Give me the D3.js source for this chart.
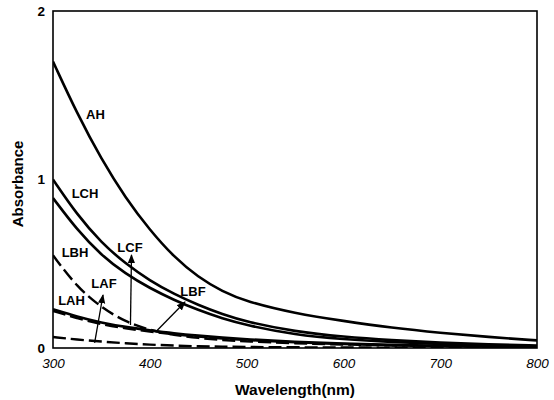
<!DOCTYPE html>
<html><head><meta charset="utf-8">
<script src="https://cdn.jsdelivr.net/npm/d3@7"></script>
<style>body{margin:0;background:#fff}svg{display:block}</style>
</head><body>
<svg id="c" width="554" height="400"></svg>
<script>
const wavelengths = [300,325,350,375,400,425,450,475,500,550,600,650,700,750,800];
const AH  = [1.70,1.39,1.12,0.89,0.70,0.54,0.42,0.335,0.275,0.205,0.16,0.12,0.09,0.065,0.045];
const LCH = [1.00,0.79,0.625,0.50,0.40,0.32,0.255,0.20,0.155,0.097,0.066,0.046,0.032,0.022,0.015];
const LBH = [0.89,0.70,0.55,0.44,0.355,0.285,0.225,0.175,0.135,0.078,0.052,0.035,0.023,0.015,0.01];
const LAH = [0.23,0.186,0.15,0.124,0.105,0.087,0.073,0.061,0.052,0.036,0.026,0.018,0.013,0.009,0.006];
const LBF = [0.22,0.176,0.141,0.116,0.097,0.081,0.067,0.056,0.047,0.033,0.023,0.016,0.011,0.008,0.005];
const LCF = [0.55,0.36,0.24,0.155,0.105,0.077,0.059,0.047,0.039,0.028,0.02,0.015,0.011,0.008,0.006];
const LAF = [0.065,0.05,0.038,0.028,0.02,0.014,0.01,0.008,0.006,0.004,0.003,0.002,0.0015,0.001,0.0];
const xTicks = [300,400,500,600,700,800];
const yTicks = [0,1,2];

const series = [
  {name:"LBF", values:LBF, dashed:true},
  {name:"LAF", values:LAF, dashed:true},
  {name:"LCF", values:LCF, dashed:true},
  {name:"LAH", values:LAH, dashed:false},
  {name:"LBH", values:LBH, dashed:false},
  {name:"LCH", values:LCH, dashed:false},
  {name:"AH",  values:AH,  dashed:false}
];

const labels = [
  {text:"AH", x:95.5, y:114},
  {text:"LCH", x:85, y:193},
  {text:"LBH", x:75, y:252},
  {text:"LCF", x:130, y:247},
  {text:"LAF", x:104, y:283},
  {text:"LAH", x:71.5, y:300},
  {text:"LBF", x:193, y:291}
];
const arrows = [
  {from:[380,0.137], to:[131.5,255]},
  {from:[343,0.03], to:[103,295]},
  {from:[406,0.095], to:[185,302]}
];

const svg = d3.select("#c");
const x = d3.scaleLinear().domain([300,800]).range([53,537]);
const y = d3.scaleLinear().domain([0,2]).range([348,11]);
const font = "Liberation Sans, Arial, sans-serif";

svg.append("defs").append("marker")
  .attr("id","ah").attr("viewBox","0 0 10 10").attr("refX",9).attr("refY",5)
  .attr("markerWidth",7).attr("markerHeight",7).attr("orient","auto-start-reverse")
  .append("path").attr("d","M0,1 L10,5 L0,9 z").attr("fill","#000");

svg.append("clipPath").attr("id","pc").append("rect")
  .attr("x",53).attr("y",11).attr("width",484).attr("height",337);

const line = d3.line().x((d,i)=>x(wavelengths[i])).y(d=>y(d)).curve(d3.curveBasis);
const g = svg.append("g").attr("clip-path","url(#pc)");
g.selectAll("path.s").data(series).join("path")
  .attr("class","s")
  .attr("d",d=>line(d.values))
  .attr("fill","none").attr("stroke","#000")
  .attr("stroke-width",d=>d.dashed?2.4:2.6)
  .attr("stroke-dasharray",d=>d.dashed?"13,5":null);

svg.append("rect").attr("x",53).attr("y",11).attr("width",484).attr("height",337)
  .attr("fill","none").attr("stroke","#000").attr("stroke-width",1.6);

const xa = svg.append("g").attr("transform","translate(0,348)")
  .call(d3.axisBottom(x).tickValues(xTicks).tickSize(0).tickPadding(10).tickFormat(d3.format("d")));
xa.select(".domain").remove();
xa.selectAll("text").attr("font-family",font).attr("font-size",13.5).attr("font-style","italic").attr("fill","#000");

const ya = svg.append("g").attr("transform","translate(53,0)")
  .call(d3.axisLeft(y).tickValues(yTicks).tickSize(0).tickPadding(8).tickFormat(d3.format("d")));
ya.select(".domain").remove();
ya.selectAll("text").attr("font-family",font).attr("font-size",13.5).attr("font-weight","bold").attr("fill","#000");

svg.append("text").attr("x",295).attr("y",395).attr("text-anchor","middle")
  .attr("font-family",font).attr("font-weight","bold").attr("font-size",15.5).text("Wavelength(nm)");
svg.append("text").attr("transform","translate(23,184) rotate(-90)").attr("text-anchor","middle")
  .attr("font-family",font).attr("font-weight","bold").attr("font-size",15).text("Absorbance");

svg.selectAll("text.lab").data(labels).join("text").attr("class","lab")
  .attr("x",d=>d.x).attr("y",d=>d.y).attr("dy","0.36em").attr("text-anchor","middle")
  .attr("font-family",font).attr("font-weight","bold").attr("font-size",13).text(d=>d.text);

svg.selectAll("line.arr").data(arrows).join("line").attr("class","arr")
  .attr("x1",d=>x(d.from[0])).attr("y1",d=>y(d.from[1]))
  .attr("x2",d=>d.to[0]).attr("y2",d=>d.to[1])
  .attr("stroke","#000").attr("stroke-width",1.3).attr("marker-end","url(#ah)");
</script>
</body></html>
